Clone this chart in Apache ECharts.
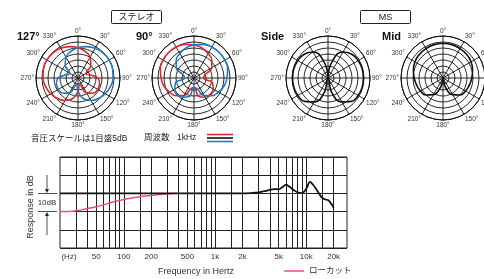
<!DOCTYPE html>
<html>
<head>
<meta charset="utf-8">
<script src="https://cdn.jsdelivr.net/npm/echarts@6/dist/echarts.min.js"></script>
<style>
  html, body { margin: 0; padding: 0; background: #fff; }
  #chart { width: 484px; height: 279px; }
</style>
</head>
<body>
<div id="chart"></div>
<script>
// polar patterns, dB relative, read every 15 degrees (last point closes the loop)
const angles = [0, 15, 30, 45, 60, 75, 90, 105, 120, 135, 150, 165, 180,
  195, 210, 225, 240, 255, 270, 285, 300, 315, 330, 345, 360];

const blue127 = [-9.6, -7.9, -6.3, -5.5, -5.1, -5.2, -5.8, -7.1, -8.7, -10.9, -13.4, -17.1, -24.1,
  -29.1, -20.7, -17.1, -16.1, -16.4, -18.4, -24.9, -27.4, -19.9, -14.9, -12.1, -9.6];
const red127 = [-9.6, -12.1, -14.9, -19.9, -27.4, -24.9, -18.4, -16.4, -16.1, -17.1, -20.7, -29.1, -24.1,
  -17.1, -13.4, -10.9, -8.7, -7.1, -5.8, -5.2, -5.1, -5.5, -6.3, -7.9, -9.6];

const blue90 = [-7.5, -6, -5.3, -5, -5.3, -6, -7.5, -9, -11.5, -14, -18, -26, -27,
  -19, -16.5, -16, -16.5, -19, -27, -26, -18, -14, -11.5, -9, -7.5];
const red90 = [-7.5, -9, -11.5, -14, -18, -26, -27, -19, -16.5, -16, -16.5, -19, -27,
  -26, -18, -14, -11.5, -9, -7.5, -6, -5.3, -5, -5.3, -6, -7.5];

const sidePattern = [-34, -20, -10, -7, -6, -5.5, -5.5, -5.5, -6, -7.5, -12, -22, -34,
  -22, -12, -7.5, -6, -5.5, -5.5, -5.5, -6, -7, -10, -20, -34];
const midPattern = [-6, -6.2, -6.7, -7.2, -8, -9.5, -11, -12.3, -13.3, -15, -19, -27, -34,
  -27, -19, -15, -13.3, -12.3, -11, -9.5, -8, -7.2, -6.7, -6.2, -6];

// frequency response
const gridFreqs = [30, 40, 50, 60, 70, 80, 90, 100, 150, 200, 300, 400, 500, 600, 700, 800, 900,
  1000, 1500, 2000, 3000, 4000, 5000, 6000, 7000, 8000, 9000, 10000, 15000, 20000];
const labelFreqs = [20, 50, 100, 200, 500, 1000, 2000, 5000, 10000, 20000];

const respFreq = [20, 50, 100, 200, 500, 1000, 2000, 2500, 3000, 3500, 4000, 4500, 5000, 5500, 6000,
  6500, 7000, 7500, 8000, 9000, 10000, 11000, 12000, 13000, 14000, 15000, 16000, 17500, 19000, 20000];
const respDb = [0, 0, 0, 0, 0, 0, 0, 0.2, 0.5, 1.2, 2, 2.4, 2.2, 3.5, 4.8,
  3.8, 2.6, 1.5, 0.6, 0.2, 2.5, 6.3, 4.5, 2, -0.5, -2.5, -3.2, -3.8, -6, -8];

const lowcutFreq = [20, 25, 30, 40, 50, 60, 70, 80, 100, 130, 160, 200, 250, 300, 350];
const lowcutDb = [-10, -9.9, -9.5, -8.3, -7.3, -6.3, -5.3, -4.5, -3.3, -2.3, -1.6, -1.1, -0.6, -0.2, 0];

const RED = '#e3262d';
const BLUE = '#1f7cc3';
const BLACK = '#111';
const PINK = '#e8536f';
const FONT = '"Liberation Sans", "Noto Sans CJK JP", sans-serif';

const chart = echarts.init(document.getElementById('chart'));

const polarCenters = [[78, 78], [194, 78], [328, 78], [443, 78]];

const toPolar = (vals) => vals.map((v, i) => [v, angles[i]]);

const polarLine = (idx, vals, color) => ({
  type: 'line',
  coordinateSystem: 'polar',
  polarIndex: idx,
  data: toPolar(vals),
  smooth: true,
  symbol: 'none',
  silent: true,
  lineStyle: { color: color, width: 1.6 }
});

const text = (x, y, str, size, extra) => ({
  type: 'text',
  x: x, y: y,
  style: Object.assign({ text: str, fontSize: size, fill: '#222', fontFamily: FONT,
    verticalAlign: 'middle' }, extra || {})
});
const seg = (x1, y1, x2, y2, color, w) => ({
  type: 'line',
  shape: { x1: x1, y1: y1, x2: x2, y2: y2 },
  style: { stroke: color, lineWidth: w }
});

const yLabel = text(31, 207, 'Response in dB', 9, { textAlign: 'center', fill: '#333' });
yLabel.rotation = Math.PI / 2;

chart.setOption({
  animation: false,
  textStyle: { fontFamily: FONT },
  polar: polarCenters.map(c => ({ center: c, radius: 42 })),
  angleAxis: polarCenters.map((c, i) => ({
    polarIndex: i,
    type: 'value',
    min: 0, max: 360, interval: 30,
    startAngle: 90,
    clockwise: true,
    axisLine: { lineStyle: { color: BLACK, width: 1 } },
    axisTick: { show: false },
    axisLabel: { fontSize: 6.5, color: '#333', margin: 2, formatter: v => v + '°' },
    splitLine: { show: true, lineStyle: { color: BLACK, width: 0.9 } }
  })),
  radiusAxis: polarCenters.map((c, i) => ({
    polarIndex: i,
    type: 'value',
    min: -35, max: 0, interval: 5,
    axisLine: { show: false },
    axisTick: { show: false },
    axisLabel: { show: false },
    splitLine: { show: true, lineStyle: { color: BLACK, width: 0.9 } }
  })),
  grid: {
    left: 60, top: 157, width: 287, height: 91,
    show: true, borderColor: '#222', borderWidth: 1,
    outerBoundsMode: 'none'
  },
  xAxis: {
    type: 'log', logBase: 10,
    min: 20, max: 28000,
    position: 'bottom',
    axisLine: { show: false, onZero: false },
    axisTick: {
      show: true, inside: true, length: 91,
      customValues: gridFreqs,
      lineStyle: { color: '#222', width: 1 }
    },
    splitLine: { show: false },
    axisLabel: {
      customValues: labelFreqs,
      fontSize: 8, color: '#333', margin: 5,
      formatter: v => {
        if (v === 20) return '{hz|(Hz)}';
        if (v >= 1000) return (v / 1000) + 'k';
        return String(v);
      },
      rich: { hz: { fontSize: 8, color: '#333', padding: [0, 0, 0, 18] } }
    }
  },
  yAxis: {
    type: 'value',
    min: -30, max: 20, interval: 10,
    axisLine: { show: false, onZero: false },
    axisTick: { show: false },
    axisLabel: { show: false },
    splitLine: { show: true, lineStyle: { color: '#222', width: 1 } }
  },
  series: [
    polarLine(0, red127, RED),
    polarLine(0, blue127, BLUE),
    polarLine(1, red90, RED),
    polarLine(1, blue90, BLUE),
    polarLine(2, sidePattern, BLACK),
    polarLine(3, midPattern, BLACK),
    {
      type: 'line',
      data: lowcutFreq.map((f, i) => [f, lowcutDb[i]]),
      smooth: true, symbol: 'none', silent: true,
      lineStyle: { color: PINK, width: 1.5 }
    },
    {
      type: 'line',
      data: respFreq.map((f, i) => [f, respDb[i]]),
      smooth: 0.3, symbol: 'none', silent: true,
      lineStyle: { color: BLACK, width: 1.8 }
    }
  ],
  graphic: [
    // section boxes
    { type: 'rect', shape: { x: 111.5, y: 10.5, width: 50, height: 13, r: 1 },
      style: { fill: '#fff', stroke: '#222', lineWidth: 1 } },
    text(136.5, 17.5, 'ステレオ', 9, { textAlign: 'center' }),
    { type: 'rect', shape: { x: 360.5, y: 10.5, width: 50, height: 13, r: 1 },
      style: { fill: '#fff', stroke: '#222', lineWidth: 1 } },
    text(385.5, 17.5, 'MS', 9, { textAlign: 'center' }),
    // pattern titles
    text(17, 37, '127°', 11, { fontWeight: 'bold', fill: '#111' }),
    text(136, 37, '90°', 11, { fontWeight: 'bold', fill: '#111' }),
    text(261, 37, 'Side', 11, { fontWeight: 'bold', fill: '#111' }),
    text(382, 37, 'Mid', 11, { fontWeight: 'bold', fill: '#111' }),
    // polar legend
    text(31, 139, '音圧スケールは1目盛5dB', 8.5),
    text(144, 138, '周波数', 8.5),
    text(177, 138, '1kHz', 8.5),
    seg(207, 134.5, 233, 134.5, RED, 1.6),
    seg(207, 138, 233, 138, BLACK, 1.6),
    seg(207, 141.5, 233, 141.5, BLUE, 1.6),
    // response annotations
    yLabel,
    seg(38, 193.5, 57, 193.5, '#222', 0.8),
    seg(38, 211.5, 57, 211.5, '#222', 0.8),
    seg(47, 175, 47, 190, '#222', 0.8),
    { type: 'polygon', shape: { points: [[45, 189], [49, 189], [47, 193]] }, style: { fill: '#222' } },
    seg(47, 215, 47, 235, '#222', 0.8),
    { type: 'polygon', shape: { points: [[45, 216], [49, 216], [47, 212]] }, style: { fill: '#222' } },
    text(47, 203, '10dB', 8, { textAlign: 'center', fill: '#333' }),
    text(196, 272, 'Frequency in Hertz', 9, { textAlign: 'center', fill: '#333' }),
    seg(284, 271, 304, 271, PINK, 1.5),
    text(309, 271, 'ローカット', 8.5, { fill: '#333' })
  ]
});
</script>
</body>
</html>
